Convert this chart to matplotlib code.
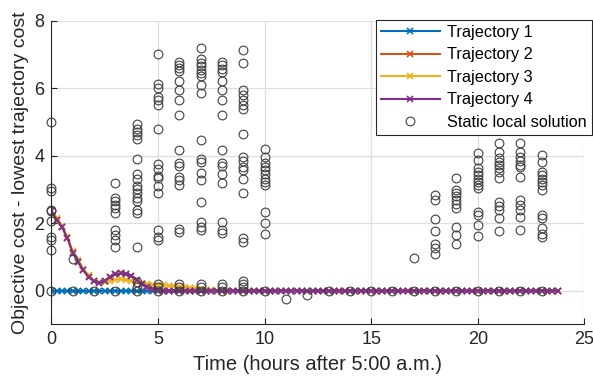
import numpy as np
import matplotlib
matplotlib.use("Agg")
import matplotlib.pyplot as plt

plt.rcParams['font.family'] = ['Liberation Sans', 'DejaVu Sans']

# time grid of the trajectories (15 min steps, 5:00 a.m. -> next morning)
time_h = np.arange(0, 24, 0.25)
n_pts = len(time_h)

# trajectory costs relative to the lowest one, zero afterwards
traj2_head = [2.35, 2.1, 1.88, 1.55, 1.12, 0.84, 0.6, 0.4, 0.28, 0.23, 0.3, 0.4,
              0.48, 0.51, 0.5, 0.44, 0.32, 0.2, 0.11, 0.05, 0.02]
traj3_head = [2.38, 2.15, 1.92, 1.6, 1.18, 0.9, 0.65, 0.45, 0.3, 0.25, 0.26, 0.3,
              0.33, 0.34, 0.33, 0.3, 0.25, 0.22, 0.2, 0.18, 0.17, 0.16, 0.15, 0.14,
              0.12, 0.11, 0.09, 0.07, 0.05, 0.03, 0.01]
traj4_head = [2.35, 2.1, 1.88, 1.55, 1.12, 0.84, 0.6, 0.4, 0.28, 0.23, 0.3, 0.4,
              0.48, 0.51, 0.5, 0.44, 0.32, 0.2, 0.11, 0.05, 0.02]

traj1 = [0.0] * n_pts
traj2 = traj2_head + [0.0] * (n_pts - len(traj2_head))
traj3 = traj3_head + [0.0] * (n_pts - len(traj3_head))
traj4 = traj4_head + [0.0] * (n_pts - len(traj4_head))

# static local solutions, one list per hour
static_hours = list(range(24))
static_costs = [
    [5.0, 3.05, 2.95, 2.4, 2.35, 2.05, 1.6, 1.5, 1.2, 0.0],
    [0.95, 0.0],
    [0.0],
    [3.18, 2.75, 2.65, 2.55, 2.45, 2.3, 1.8, 1.65, 1.5, 1.3, 0.0],
    [4.95, 4.8, 4.7, 4.6, 4.5, 3.9, 3.45, 3.3, 3.1, 3.0, 2.9, 2.75, 2.65, 2.4, 2.3, 1.3, 0.25, 0.1, 0.0],
    [7.0, 6.12, 6.0, 5.75, 5.65, 5.5, 4.8, 3.75, 3.6, 3.4, 3.35, 3.1, 2.9, 1.8, 1.6, 1.5, 0.2, 0.1, 0.0],
    [6.78, 6.7, 6.6, 6.5, 6.21, 5.94, 5.66, 5.2, 4.18, 3.77, 3.69, 3.37, 3.27, 3.13, 1.84, 1.74, 0.2, 0.1, 0.0],
    [7.18, 6.85, 6.75, 6.65, 6.55, 6.45, 6.35, 6.1, 5.85, 4.45, 3.9, 3.8, 3.5, 3.27, 2.63, 2.04, 1.9, 1.8, 0.2, 0.1, 0.0],
    [6.78, 6.68, 6.58, 6.48, 6.2, 5.94, 5.66, 5.2, 4.18, 3.77, 3.7, 3.45, 3.2, 2.04, 1.8, 1.7, 0.2, 0.1, 0.0],
    [7.13, 6.75, 5.94, 5.79, 5.64, 5.5, 5.37, 4.63, 3.96, 3.85, 3.67, 3.57, 3.32, 2.88, 1.55, 1.45, 0.3, 0.2, 0.1, 0.0],
    [4.21, 3.96, 3.77, 3.67, 3.57, 3.45, 3.32, 3.22, 3.13, 2.34, 2.01, 1.69, 0.0],
    [-0.26],
    [-0.13],
    [0.0],
    [0.0],
    [0.0],
    [0.0],
    [0.97, 0.0],
    [2.82, 2.7, 2.11, 1.78, 1.39, 1.27, 1.1, 0.0],
    [3.34, 2.98, 2.88, 2.8, 2.7, 2.58, 2.46, 1.89, 1.64, 1.38, 0.0],
    [4.09, 3.87, 3.62, 3.52, 3.42, 3.32, 3.22, 3.13, 3.03, 2.34, 2.24, 1.94, 1.61, 0.0],
    [4.36, 4.11, 3.92, 3.82, 3.72, 3.62, 3.52, 3.35, 2.63, 2.5, 2.4, 2.14, 1.77, 0.0],
    [4.36, 4.11, 3.96, 3.85, 3.73, 3.65, 3.37, 2.68, 2.53, 2.4, 2.17, 1.79, 0.0],
    [4.03, 3.82, 3.52, 3.42, 3.32, 3.22, 3.12, 2.98, 2.24, 2.14, 1.87, 1.69, 1.58, 0.0],
]

labels = ["Trajectory 1", "Trajectory 2", "Trajectory 3", "Trajectory 4"]
colors = ["#0072BD", "#D95319", "#EDB120", "#7E2F8E"]

fig = plt.figure(figsize=(5.93, 3.89), dpi=100)
ax = fig.add_axes([0.0868, 0.166, 0.8985, 0.781])

for y, lab, col in zip([traj1, traj2, traj3, traj4], labels, colors):
    ax.plot(time_h, y, color=col, linewidth=1.5, marker='x', markersize=4,
            markeredgewidth=1.2, label=lab)

sx = [h for h, vals in zip(static_hours, static_costs) for _ in vals]
sy = [v for vals in static_costs for v in vals]
ax.plot(sx, sy, linestyle='none', marker='o', markersize=6.3, markerfacecolor='none',
        markeredgecolor='#404040', markeredgewidth=0.8, clip_on=False,
        label="Static local solution")

ax.set_xlim(0, 25)
ax.set_ylim(-1, 8)
ax.set_xticks([0, 5, 10, 15, 20, 25])
ax.set_yticks([0, 2, 4, 6, 8])
ax.grid(True, color='#dedede', linewidth=0.9)
ax.set_axisbelow(True)

ax.tick_params(axis='both', which='major', direction='in', length=4, width=0.8,
               labelsize=13, colors='#262626', labelcolor='#262626', pad=5)
for side in ['top', 'right']:
    ax.spines[side].set_visible(False)
for side in ['bottom', 'left']:
    ax.spines[side].set_color('#262626')
    ax.spines[side].set_linewidth(0.8)

ax.set_xlabel("Time (hours after 5:00 a.m.)", fontsize=14.5, color='#262626', labelpad=5)
ax.set_ylabel("Objective cost - lowest trajectory cost", fontsize=14, color='#262626',
              labelpad=4)

leg = ax.legend(loc='upper right', bbox_to_anchor=(591.5 / 593, 1 - 20 / 389),
                bbox_transform=fig.transFigure, fontsize=11.7, frameon=True,
                fancybox=False, edgecolor='#262626', handlelength=3.6,
                handletextpad=0.45, labelspacing=0.46, borderpad=0.3,
                borderaxespad=0.0, framealpha=1)
leg.get_frame().set_linewidth(0.8)

fig.savefig("out.png", dpi=100)
